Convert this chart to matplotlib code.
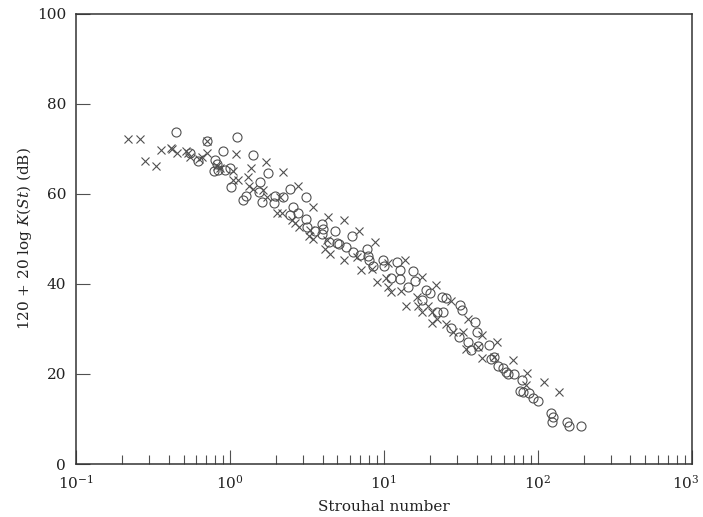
import math
import matplotlib
matplotlib.use("Agg")
import matplotlib.pyplot as plt
from matplotlib.ticker import LogLocator, NullFormatter, FuncFormatter

# Strouhal number vs. 120 + 20 log K(St), two data sets
st_cross = [0.219, 0.260, 0.281, 0.331, 0.355, 0.412, 0.418, 0.451, 0.518, 0.536,
            0.550, 0.632, 0.655, 0.706, 0.706, 1.094, 0.828, 0.861, 1.05, 1.04,
            1.13, 1.71, 2.22, 1.38, 1.31, 1.34, 1.42, 1.64, 1.73, 2.11,
            2.75, 2.01, 2.17, 2.55, 2.64, 2.82, 3.26, 3.47, 4.35, 5.50,
            3.31, 3.47, 4.25, 4.14, 4.46, 6.91, 8.74, 5.50, 6.65, 7.06,
            8.32, 10.6, 13.7, 10.3, 8.97, 10.7, 11.2, 13.0, 16.3, 13.9,
            16.7, 19.4, 17.6, 21.8, 27.5, 17.8, 20.7, 22.0, 20.4, 35.3,
            43.1, 25.5, 28.2, 32.7, 34.1, 41.0, 54.4, 43.7, 51.8, 69.1,
            85.7, 83.6, 110, 137]
db_cross = [72.2, 72.2, 67.3, 66.2, 69.8, 70.3, 69.9, 69.0, 69.6, 69.0,
            68.3, 67.7, 68.3, 69.0, 71.8, 68.8, 66.2, 65.7, 65.0, 63.1,
            63.1, 67.0, 64.9, 65.7, 63.8, 61.8, 61.0, 60.9, 59.3, 59.4,
            61.8, 55.7, 55.8, 54.2, 53.5, 52.7, 50.7, 57.2, 54.8, 54.2,
            52.0, 49.9, 49.8, 47.7, 46.7, 51.8, 49.4, 45.3, 45.9, 43.1,
            43.3, 44.7, 45.3, 41.3, 40.5, 39.4, 38.3, 38.5, 37.0, 35.0,
            35.0, 35.0, 41.6, 39.8, 36.3, 33.7, 33.8, 32.2, 31.4, 32.2,
            28.7, 31.1, 29.4, 29.4, 25.5, 25.9, 27.0, 23.5, 23.7, 23.0,
            20.3, 17.6, 18.3, 16.1]

st_circle = [0.446, 0.713, 1.11, 0.550, 0.622, 0.898, 0.80, 0.82, 0.787, 0.84,
             0.93, 1.0, 1.01, 1.42, 1.77, 1.57, 1.28, 1.22, 1.55, 1.61,
             1.96, 1.94, 2.22, 2.45, 3.12, 2.58, 2.45, 2.78, 3.12, 3.18,
             3.94, 3.56, 4.0, 3.94, 4.81, 4.39, 4.98, 5.13, 5.71, 6.17,
             6.32, 6.98, 7.91, 7.81, 8.53, 8.03, 9.81, 10.0, 12.1, 11.2,
             12.7, 12.7, 15.5, 15.9, 14.3, 18.9, 19.9, 17.6, 24.0, 25.5,
             31.2, 32.0, 22.2, 24.3, 39.0, 40.4, 27.5, 30.8, 35.3, 36.6,
             41.0, 48.3, 50.0, 51.8, 55.2, 59.5, 62.6, 64.1, 69.8, 78.4,
             76.4, 80.3, 87.9, 93.1, 100.5, 121, 126, 123, 155, 160,
             192]
db_circle = [73.7, 71.8, 72.6, 69.0, 67.4, 69.6, 67.6, 66.7, 65.0, 65.3,
             65.3, 65.7, 61.6, 68.6, 64.6, 62.7, 59.6, 58.7, 60.5, 58.3,
             59.6, 58.1, 59.4, 61.1, 59.3, 57.2, 55.3, 55.7, 54.4, 52.7,
             53.3, 51.8, 52.2, 51.1, 51.7, 49.4, 49.2, 48.8, 48.3, 50.7,
             47.0, 46.5, 46.2, 47.7, 44.0, 45.3, 45.3, 44.0, 44.8, 41.3,
             43.1, 41.0, 42.8, 40.7, 39.3, 38.7, 37.9, 36.4, 37.0, 36.8,
             35.3, 34.2, 33.8, 33.8, 31.6, 29.4, 30.2, 28.3, 27.0, 25.3,
             26.3, 26.4, 23.3, 23.7, 21.8, 21.3, 20.5, 20.0, 20.0, 18.7,
             16.3, 16.1, 15.7, 14.6, 14.1, 11.4, 10.4, 9.4, 9.4, 8.4,
             8.4]

x_min, x_max = 0.1, 1000

plt.rcParams['font.family'] = 'DejaVu Serif'
plt.rcParams['mathtext.fontset'] = 'custom'
plt.rcParams['mathtext.rm'] = 'DejaVu Serif'
plt.rcParams['mathtext.it'] = 'DejaVu Serif:italic'

ink = '#505050'
txt = '#222222'
fig = plt.figure(figsize=(7.03, 5.17), dpi=100)
ax = fig.add_axes([0.108, 0.1025, 0.876, 0.8705])

ax.plot(st_cross, db_cross, 'x', ls='none', ms=5.5, mew=0.8, color=ink)
ax.plot(st_circle, db_circle, 'o', ls='none', ms=6.5, mew=0.8, mfc='none', mec=ink)

ax.set_xscale('log')
ax.set_xlim(x_min, x_max)
ax.set_ylim(0, 100)
ax.set_yticks([0, 20, 40, 60, 80, 100])
ax.xaxis.set_major_locator(LogLocator(base=10, numticks=10))
ax.xaxis.set_minor_locator(LogLocator(base=10, subs=range(2, 10), numticks=20))
ax.xaxis.set_minor_formatter(NullFormatter())


def decade(v, pos):
    # the last decade is drawn separately so it stays inside the canvas
    if v >= x_max:
        return ''
    return r'$10^{%d}$' % round(math.log10(v))


ax.xaxis.set_major_formatter(FuncFormatter(decade))
ax.annotate(r'$10^{%d}$' % round(math.log10(x_max)), xy=(x_max, 0), xycoords='data',
            xytext=(-4, -7), textcoords='offset points',
            ha='center', va='top', fontsize=11, color=txt)

ax.tick_params(which='major', direction='in', length=10, width=0.8, color=ink,
               labelsize=11, labelcolor=txt, pad=7)
ax.tick_params(which='minor', direction='in', length=6.5, width=0.8, color=ink)
ax.tick_params(top=False, right=False, which='both')
for s in ax.spines.values():
    s.set_color('#333333')
    s.set_linewidth(1.1)

ax.set_xlabel('Strouhal number', fontsize=11, color=txt, labelpad=6)
ax.set_ylabel(r'120 + 20 log $K$($St$) (dB)', fontsize=11, color=txt, labelpad=2)

fig.savefig('out.png', dpi=100)
